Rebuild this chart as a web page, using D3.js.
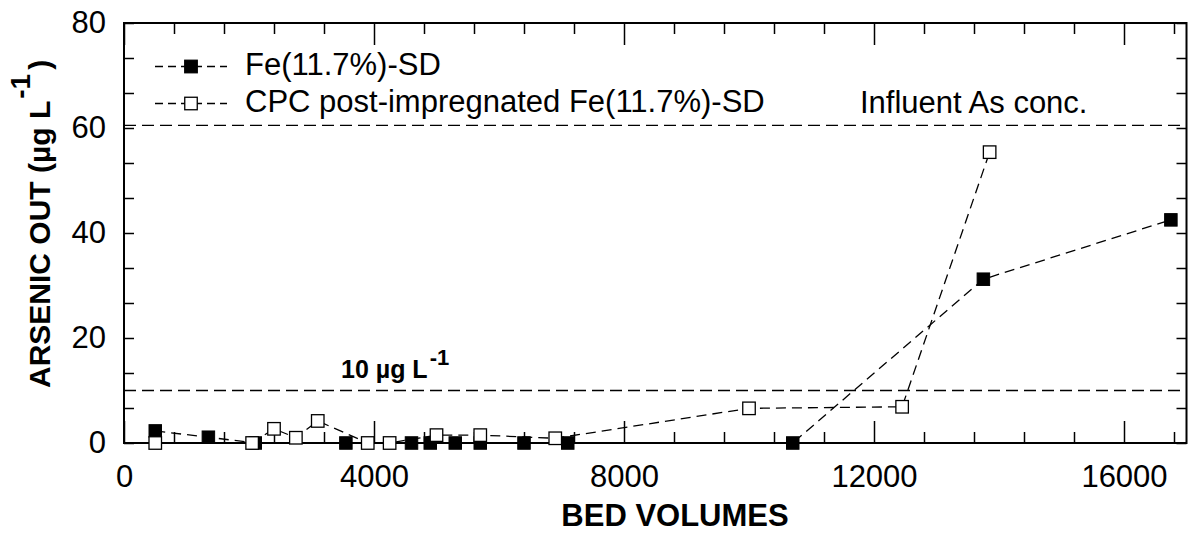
<!DOCTYPE html>
<html>
<head>
<meta charset="utf-8">
<script src="https://cdn.jsdelivr.net/npm/d3@7"></script>
<style>
  body { margin: 0; background: #fff; }
  svg text { font-family: "Liberation Sans", Arial, sans-serif; fill: #000; }
  .axis path.domain { display: none; }
  .axis line { stroke: #000; stroke-width: 1.5; }
  .series { fill: none; stroke: #000; stroke-width: 1.3; stroke-dasharray: 10,6; }
  .refline { stroke: #000; stroke-width: 1.3; stroke-dasharray: 12,6; }
</style>
</head>
<body>
<div id="chart"></div>
<script>
// bed volumes / arsenic out
const bedVolumesFe = [500, 1350, 2100, 3550, 4600, 4900, 5300, 5700, 6400, 7100, 10700, 13750, 16750]
const arsenicFe    = [2.3, 1.1, 0, 0, 0, 0, 0, 0, 0, 0, 0, 31.2, 42.5]
const bedVolumesCpc = [500, 2050, 2400, 2750, 3100, 3900, 4250, 5000, 5700, 6900, 10000, 12450, 13850]
const arsenicCpc    = [0, 0, 2.7, 1.0, 4.2, 0, 0, 1.5, 1.5, 0.9, 6.6, 6.9, 55.4]
const seriesNames = ['Fe(11.7%)-SD', 'CPC post-impregnated Fe(11.7%)-SD']
const influentConc = 60.5
const limitConc = 10
const xMajorTicks = [0, 4000, 8000, 12000, 16000]
const yMajorTicks = [0, 20, 40, 60, 80]

const width = 1189, height = 533
const plotL = 124, plotR = 1186.5, plotT = 23, plotB = 443

const svg = d3.select('#chart').append('svg')
  .attr('width', width)
  .attr('height', height)

const x = d3.scaleLinear().domain([0, 17000]).range([plotL, plotR])
const y = d3.scaleLinear().domain([0, 80]).range([plotB, plotT])

const xMinor = d3.range(0, 17000, 800).filter(v => v % 4000 !== 0)
const yAll = d3.range(0, 13).map(i => i * 20 / 3)

// axes: ticks point inwards on all four sides
svg.append('g').attr('class', 'axis')
  .attr('transform', `translate(0,${plotB})`)
  .call(d3.axisBottom(x).tickValues(xMinor).tickSize(-11).tickSizeOuter(0).tickFormat(''))
svg.append('g').attr('class', 'axis axis-xmajor')
  .attr('transform', `translate(0,${plotB})`)
  .call(d3.axisBottom(x).tickValues(xMajorTicks).tickSize(-22).tickSizeOuter(0).tickPadding(22)
    .tickFormat(d3.format('d')))
svg.append('g').attr('class', 'axis')
  .attr('transform', `translate(0,${plotT})`)
  .call(d3.axisTop(x).tickValues(xMinor).tickSize(-11).tickSizeOuter(0).tickFormat(''))
svg.append('g').attr('class', 'axis')
  .attr('transform', `translate(0,${plotT})`)
  .call(d3.axisTop(x).tickValues(xMajorTicks).tickSize(-22).tickSizeOuter(0).tickFormat(''))

svg.append('g').attr('class', 'axis axis-y')
  .attr('transform', `translate(${plotL},0)`)
  .call(d3.axisLeft(y).tickValues(yAll).tickSize(-10).tickSizeOuter(0).tickPadding(18)
    .tickFormat(d => yMajorTicks.some(m => Math.abs(m - d) < 1e-6) ? Math.round(d) : ''))
svg.append('g').attr('class', 'axis')
  .attr('transform', `translate(${plotR},0)`)
  .call(d3.axisRight(y).tickValues(yAll).tickSize(-10).tickSizeOuter(0).tickFormat(''))

svg.selectAll('.axis-xmajor text, .axis-y text')
  .style('font-size', '31px')
  .style('font-family', '"Liberation Sans", Arial, sans-serif')

// frame
svg.append('rect')
  .attr('x', plotL).attr('y', plotT)
  .attr('width', plotR - plotL).attr('height', plotB - plotT)
  .attr('fill', 'none').attr('stroke', '#000').attr('stroke-width', 2)

// reference lines
svg.append('line').attr('class', 'refline')
  .attr('x1', plotL).attr('x2', plotR)
  .attr('y1', y(influentConc)).attr('y2', y(influentConc))
svg.append('line').attr('class', 'refline')
  .attr('x1', plotL).attr('x2', plotR)
  .attr('y1', y(limitConc)).attr('y2', y(limitConc))

svg.append('text')
  .attr('x', 860).attr('y', 113)
  .style('font-size', '31px')
  .text('Influent As conc.')

const lim = svg.append('text')
  .attr('x', 341).attr('y', 378)
  .style('font-size', '25px').style('font-weight', 'bold')
lim.append('tspan').text('10 \u00b5g L')
lim.append('tspan').attr('dy', -13).attr('dx', 2).style('font-size', '22px').text('-1')

// series
const sq = 12.5
const line = d3.line().x(d => x(d[0])).y(d => y(d[1]))
const fe = d3.zip(bedVolumesFe, arsenicFe)
const cpc = d3.zip(bedVolumesCpc, arsenicCpc)

svg.append('path').datum(fe).attr('class', 'series').attr('d', line)
svg.append('path').datum(cpc).attr('class', 'series').attr('d', line)

svg.selectAll('.pt-fe').data(fe).enter().append('rect')
  .attr('class', 'pt-fe')
  .attr('x', d => x(d[0]) - sq / 2).attr('y', d => y(d[1]) - sq / 2)
  .attr('width', sq).attr('height', sq)
  .attr('fill', '#000').attr('stroke', '#000').attr('stroke-width', 1)
svg.selectAll('.pt-cpc').data(cpc).enter().append('rect')
  .attr('class', 'pt-cpc')
  .attr('x', d => x(d[0]) - sq / 2).attr('y', d => y(d[1]) - sq / 2)
  .attr('width', sq).attr('height', sq)
  .attr('fill', '#fff').attr('stroke', '#000').attr('stroke-width', 1.3)

// legend
const legendRows = [
  { name: seriesNames[0], fill: '#000', y: 66.5, ty: 75 },
  { name: seriesNames[1], fill: '#fff', y: 103.5, ty: 112 }
]
legendRows.forEach(r => {
  svg.append('line').attr('class', 'series')
    .attr('x1', 155).attr('x2', 227).attr('y1', r.y).attr('y2', r.y)
    .style('stroke-dasharray', '8,5')
  svg.append('rect')
    .attr('x', 191 - sq / 2).attr('y', r.y - sq / 2)
    .attr('width', sq).attr('height', sq)
    .attr('fill', r.fill).attr('stroke', '#000').attr('stroke-width', 1.3)
  svg.append('text')
    .attr('x', 245).attr('y', r.ty)
    .style('font-size', '31px')
    .text(r.name)
})

// axis titles
svg.append('text')
  .attr('x', 675).attr('y', 526)
  .attr('text-anchor', 'middle')
  .style('font-size', '31px').style('font-weight', 'bold')
  .text('BED VOLUMES')

const yt = svg.append('text')
  .attr('transform', 'translate(50,388) rotate(-90)')
  .style('font-size', '30px').style('font-weight', 'bold')
yt.append('tspan').text('ARSENIC OUT (\u00b5g L')
yt.append('tspan').attr('dy', -20).attr('dx', 2).style('font-size', '28px').text('-1')
yt.append('tspan').attr('dy', 20).attr('dx', 4).text(')')
</script>
</body>
</html>
